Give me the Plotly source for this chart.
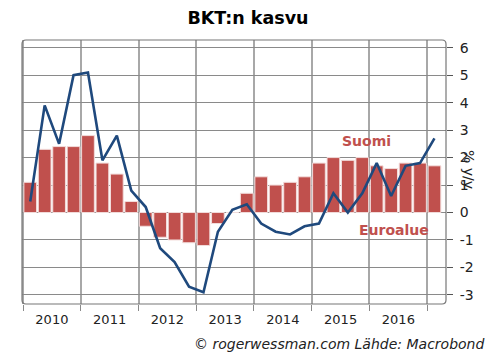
import plotly.graph_objects as go

# Quarterly data 2010Q1 .. 2017Q1, y/y %
quarters = [f"{y}Q{q}" for y in range(2010, 2017) for q in range(1, 5)] + ["2017Q1"]
euroalue = [1.1, 2.3, 2.4, 2.4,
            2.8, 1.8, 1.4, 0.4,
            -0.5, -0.9, -1.0, -1.1,
            -1.2, -0.4, 0.0, 0.7,
            1.3, 1.0, 1.1, 1.3,
            1.8, 2.0, 1.9, 2.0,
            1.7, 1.6, 1.8, 1.8,
            1.7]
suomi = [0.4, 3.9, 2.5, 5.0,
         5.1, 1.9, 2.8, 0.8,
         0.2, -1.3, -1.8, -2.7,
         -2.9, -0.7, 0.1, 0.3,
         -0.4, -0.7, -0.8, -0.5,
         -0.4, 0.7, 0.0, 0.7,
         1.8, 0.6, 1.7, 1.8,
         2.7]
years = ["2010", "2011", "2012", "2013", "2014", "2015", "2016"]
y_tick_vals = [6, 5, 4, 3, 2, 1, 0, -1, -2, -3]
y_tick_text = ["6", "5", "4", "3", "2", "1", "0", "-1", "-2", "-3"]

RED = "#C0504D"
BLUE = "#1F497D"
GRID = "#8a8a8a"
VGRID = "#a8a8a8"
FONT = "DejaVu Sans"

idx = list(range(len(quarters)))
year_centers = [4 * i + 1.5 for i in range(len(years))]
year_bounds = [4 * i - 0.5 for i in range(len(years) + 1)]

fig = go.Figure()
fig.add_trace(go.Bar(x=idx, y=euroalue, marker=dict(color=RED, line=dict(color="#f2dcdb", width=1)),
                     showlegend=False, hoverinfo="skip"))
fig.add_trace(go.Scatter(x=idx, y=suomi, mode="lines", line=dict(color=BLUE, width=2.6),
                         showlegend=False, hoverinfo="skip"))

fig.update_layout(
    width=496, height=361,
    margin=dict(l=22, r=50, t=40, b=57, autoexpand=False),
    paper_bgcolor="white", plot_bgcolor="white",
    bargap=0.12,
    font=dict(family=FONT, color="#222222"),
    title=dict(text="<b>BKT:n kasvu</b>", x=0.5, xanchor="center", y=0.95, yanchor="middle",
               font=dict(size=17.5, family=FONT, color="black")),
    xaxis=dict(range=[-0.57, 28.8], tickvals=year_centers, ticktext=years, ticks="",
               showgrid=False, zeroline=False, showline=False, automargin=False,
               tickfont=dict(size=13, family=FONT, color="#222222"),
               ticklabelstandoff=6,
               minor=dict(tickvals=year_bounds, ticks="outside", ticklen=6, tickcolor=GRID,
                          showgrid=True, gridcolor=VGRID, gridwidth=1.5)),
    yaxis=dict(range=[-3.33, 6.28], side="right", tickvals=y_tick_vals, ticktext=y_tick_text,
               ticks="outside", ticklen=6, tickcolor="#555555", automargin=False,
               showgrid=True, gridcolor=GRID, gridwidth=1,
               zeroline=True, zerolinecolor=GRID, zerolinewidth=1,
               showline=False, ticklabelstandoff=4,
               tickfont=dict(size=14, family=FONT, color="#222222")),
)

# rounded frame around plot area (paper coords)
rx, ry = 4 / 424, 4 / 264
path = (f"M {rx},0 L {1-rx},0 Q 1,0 1,{ry} L 1,{1-ry} Q 1,1 {1-rx},1 "
        f"L {rx},1 Q 0,1 0,{1-ry} L 0,{ry} Q 0,0 {rx},0 Z")
fig.add_shape(type="path", path=path, xref="paper", yref="paper",
              line=dict(color="#777777", width=1.2), layer="above")

fig.add_annotation(text="<b>Suomi</b>", x=23.3, y=2.6, xref="x", yref="y", showarrow=False,
                   font=dict(size=14, family=FONT, color=RED))
fig.add_annotation(text="<b>Euroalue</b>", x=25.2, y=-0.65, xref="x", yref="y", showarrow=False,
                   font=dict(size=14, family=FONT, color=RED))
fig.add_annotation(text="% y/y", textangle=90, x=(479 - 22) / 424, y=(304 - 170) / 264,
                   xref="paper", yref="paper",
                   showarrow=False, font=dict(size=14, family=FONT, color="#222222"))
fig.add_annotation(text="<i>© rogerwessman.com Lähde: Macrobond</i>",
                   x=(486 - 22) / 424, y=-(344 - 304) / 264,
                   xref="paper", yref="paper", xanchor="right", yanchor="middle",
                   showarrow=False,
                   font=dict(size=14, family=FONT, color="#222222"))

fig.write_html("out.html", config={"displayModeBar": False},
               post_script="document.body.style.margin='0';document.body.style.padding='0';")
